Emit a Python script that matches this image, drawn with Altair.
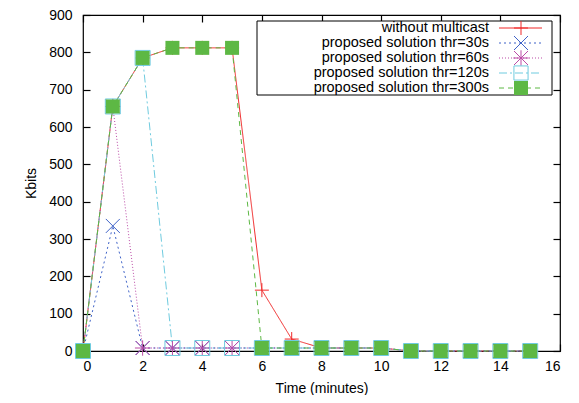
import altair as alt
import pandas as pd

time = list(range(16))
without_multicast = [0, 655, 785, 812, 812, 812, 163, 32, 8, 8, 8, 0, 0, 0, 0, 0]
thr30 = [0, 335, 8, 8, 8, 8, 8, 8, 8, 8, 8, 0, 0, 0, 0, 0]
thr60 = [0, 655, 8, 8, 8, 8, 8, 8, 8, 8, 8, 0, 0, 0, 0, 0]
thr120 = [0, 655, 785, 8, 8, 8, 8, 8, 8, 8, 8, 0, 0, 0, 0, 0]
thr300 = [0, 655, 785, 812, 812, 812, 8, 8, 8, 8, 8, 0, 0, 0, 0, 0]

names = ["without multicast", "proposed solution thr=30s", "proposed solution thr=60s",
         "proposed solution thr=120s", "proposed solution thr=300s"]
values = [without_multicast, thr30, thr60, thr120, thr300]
colors = ["#f02828", "#3f63c8", "#bb4aa6", "#6fcbdf", "#5db844"]
dashes = [[1, 0], [2, 3], [1, 2], [8, 3, 2, 3], [5, 4]]
shapes = ["M-1,0L1,0M0,-1L0,1", "M-1,-1L1,1M-1,1L1,-1",
          "M-1,-1L1,1M-1,1L1,-1M0,-1.1L0,1.1M-1.1,0L1.1,0", "square", "square"]
sizes = [196, 196, 196, 225, 196]
legend_sizes = [196, 196, 196, 200, 196]
filled = [False, False, False, False, True]

x_ticks = list(range(0, 17, 2))
y_ticks = list(range(0, 901, 100))

W, H = 477, 336
TL = 7
FONT = "Liberation Sans"

xs = alt.Scale(domain=[0, 16], nice=False)
ys = alt.Scale(domain=[0, 900], nice=False)
common = dict(ticks=True, tickSize=TL, tickColor="black", tickWidth=1.2, offset=-TL,
              domain=False, grid=False)
xaxis = alt.Axis(values=x_ticks, labelPadding=8, titlePadding=8, **common)
yaxis = alt.Axis(values=y_ticks, labelPadding=11, titlePadding=10, **common)
X = lambda f: alt.X(f, scale=xs, title="Time (minutes)", axis=xaxis)
Y = lambda f: alt.Y(f, scale=ys, title="Kbits", axis=yaxis)

layers = []
for i in range(5):
    df = pd.DataFrame({"Time": time, "Kbits": values[i]})
    layers.append(alt.Chart(df).mark_line(
        color=colors[i], strokeDash=dashes[i], strokeWidth=1, clip=False
    ).encode(x=X("Time:Q"), y=Y("Kbits:Q")))
for i in range(5):
    df = pd.DataFrame({"Time": time, "Kbits": values[i]})
    layers.append(alt.Chart(df).mark_point(
        shape=shapes[i], size=sizes[i], filled=filled[i],
        color=colors[i], strokeWidth=1, opacity=1, clip=False,
    ).encode(x=X("Time:Q"), y=Y("Kbits:Q")))

# legend (gnuplot style: label on the left, line sample + marker on the right)
one = pd.DataFrame({"a": [0]})
layers.append(alt.Chart(one).mark_rect(fill="white", stroke="black", strokeWidth=1).encode(
    x=alt.value(174), x2=alt.value(469), y=alt.value(6), y2=alt.value(80)))
row_y = [13, 28, 43, 58, 73]
for i in range(5):
    layers.append(alt.Chart(one).mark_text(
        text=names[i], align="right", baseline="middle", font=FONT, fontSize=14.5, color="black"
    ).encode(x=alt.value(406), y=alt.value(row_y[i])))
    layers.append(alt.Chart(one).mark_rule(
        color=colors[i], strokeDash=dashes[i], strokeWidth=1
    ).encode(x=alt.value(416), x2=alt.value(459), y=alt.value(row_y[i])))
    layers.append(alt.Chart(one).mark_point(
        shape=shapes[i], size=legend_sizes[i], filled=filled[i], color=colors[i],
        strokeWidth=1, opacity=1
    ).encode(x=alt.value(438), y=alt.value(row_y[i])))

main = alt.layer(*layers)

# mirrored inward ticks on the top and right edges
mirror_df = pd.DataFrame({"Time": [0, 16], "Kbits": [0, 900]})
mirror = alt.Chart(mirror_df).mark_point(opacity=0).encode(
    x=alt.X("Time:Q", scale=xs, title=None,
            axis=alt.Axis(orient="top", values=x_ticks, labels=False, **common)),
    y=alt.Y("Kbits:Q", scale=ys, title=None,
            axis=alt.Axis(orient="right", values=y_ticks, labels=False, **common)),
)

chart = alt.layer(main, mirror).resolve_scale(
    x="independent", y="independent"
).resolve_axis(x="independent", y="independent").properties(
    width=W, height=H,
    autosize=alt.AutoSizeParams(type="none"),
    padding={"left": 75, "top": 7, "right": 11, "bottom": 44},
).configure_view(stroke="black", strokeWidth=1.2).configure_axis(
    labelFont=FONT, titleFont=FONT, labelFontSize=14, titleFontSize=14,
    labelColor="black", titleColor="black", titleFontWeight="normal",
)

chart.save("out.html", embed_options={"renderer": "svg", "actions": False})
